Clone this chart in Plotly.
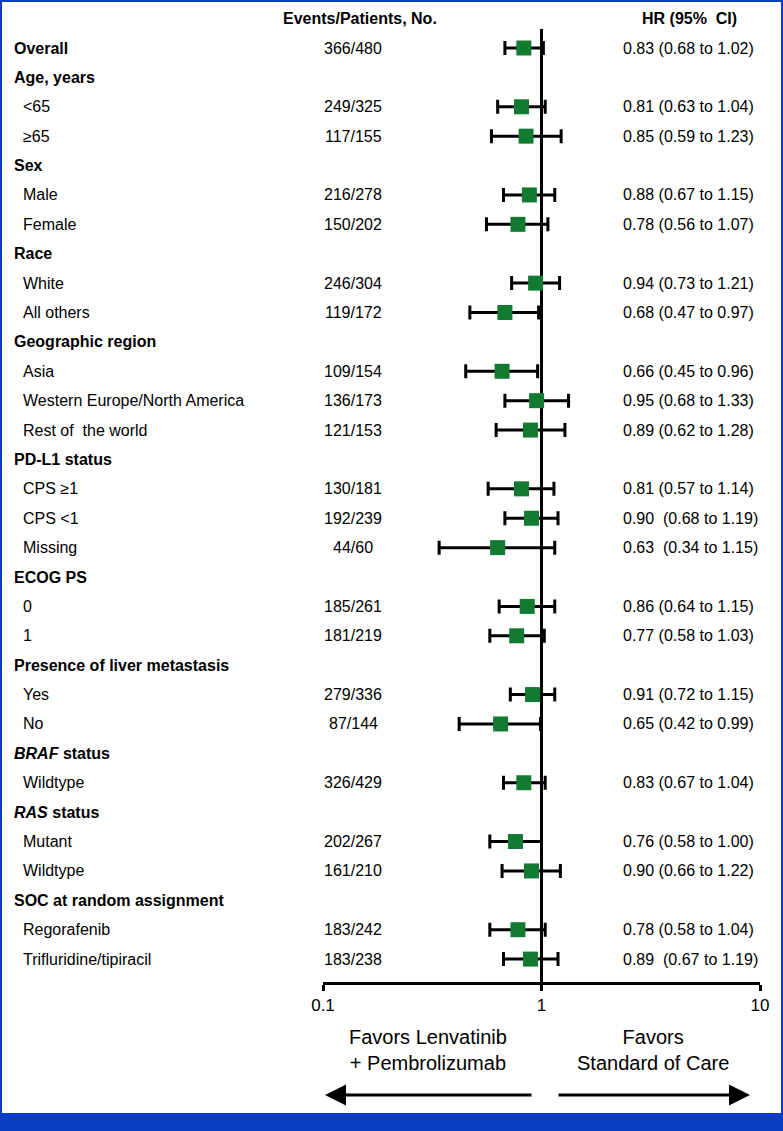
import plotly.graph_objects as go

# ---------------- data ----------------
labels = ["<b>Overall</b>", "<b>Age, years</b>", "<65", "≥65", "<b>Sex</b>", "Male", "Female",
          "<b>Race</b>", "White", "All others", "<b>Geographic region</b>", "Asia",
          "Western Europe/North America", "Rest of  the world", "<b>PD-L1 status</b>",
          "CPS ≥1", "CPS <1", "Missing", "<b>ECOG PS</b>", "0", "1",
          "<b>Presence of liver metastasis</b>", "Yes", "No", "<b><i>BRAF</i> status</b>",
          "Wildtype", "<b><i>RAS</i> status</b>", "Mutant", "Wildtype",
          "<b>SOC at random assignment</b>", "Regorafenib", "Trifluridine/tipiracil"]
is_header = [True, True, False, False, True, False, False, True, False, False, True, False,
             False, False, True, False, False, False, True, False, False, True, False, False,
             True, False, True, False, False, True, False, False]
events = ["366/480", "", "249/325", "117/155", "", "216/278", "150/202", "", "246/304",
          "119/172", "", "109/154", "136/173", "121/153", "", "130/181", "192/239", "44/60",
          "", "185/261", "181/219", "", "279/336", "87/144", "", "326/429", "", "202/267",
          "161/210", "", "183/242", "183/238"]
hr = [0.83, None, 0.81, 0.85, None, 0.88, 0.78, None, 0.94, 0.68, None, 0.66, 0.95, 0.89,
      None, 0.81, 0.90, 0.63, None, 0.86, 0.77, None, 0.91, 0.65, None, 0.83, None, 0.76,
      0.90, None, 0.78, 0.89]
lo = [0.68, None, 0.63, 0.59, None, 0.67, 0.56, None, 0.73, 0.47, None, 0.45, 0.68, 0.62,
      None, 0.57, 0.68, 0.34, None, 0.64, 0.58, None, 0.72, 0.42, None, 0.67, None, 0.58,
      0.66, None, 0.58, 0.67]
hi = [1.02, None, 1.04, 1.23, None, 1.15, 1.07, None, 1.21, 0.97, None, 0.96, 1.33, 1.28,
      None, 1.14, 1.19, 1.15, None, 1.15, 1.03, None, 1.15, 0.99, None, 1.04, None, 1.00,
      1.22, None, 1.04, 1.19]
hr_text = ["0.83 (0.68 to 1.02)", "", "0.81 (0.63 to 1.04)", "0.85 (0.59 to 1.23)", "",
           "0.88 (0.67 to 1.15)", "0.78 (0.56 to 1.07)", "", "0.94 (0.73 to 1.21)",
           "0.68 (0.47 to 0.97)", "", "0.66 (0.45 to 0.96)", "0.95 (0.68 to 1.33)",
           "0.89 (0.62 to 1.28)", "", "0.81 (0.57 to 1.14)", "0.90  (0.68 to 1.19)",
           "0.63  (0.34 to 1.15)", "", "0.86 (0.64 to 1.15)", "0.77 (0.58 to 1.03)", "",
           "0.91 (0.72 to 1.15)", "0.65 (0.42 to 0.99)", "", "0.83 (0.67 to 1.04)", "",
           "0.76 (0.58 to 1.00)", "0.90 (0.66 to 1.22)", "", "0.78 (0.58 to 1.04)",
           "0.89  (0.67 to 1.19)"]
tick_vals = [0.1, 1, 10]
tick_text = ["0.1", "1", "10"]
col_headers = ["<b>Events/Patients, No.</b>", "<b>HR (95%  CI)</b>"]
favor_left = "Favors Lenvatinib<br>+ Pembrolizumab"
favor_right = "Favors<br>Standard of Care"

# ---------------- geometry ----------------
W, H = 783, 1131
FONT = "Liberation Sans, Arial, Helvetica, sans-serif"
GREEN = "#137a31"
BLUE = "#0b3cc6"
row0_px, step_px = 48, 29.39
axis_px = 982


def px2row(p):
    return (p - row0_px) / step_px


def pxx(p):
    return p / W


def pxy(p):
    return 1 - p / H


def nb(s):
    return s.replace("  ", "\u00a0 ")


rows = list(range(len(labels)))
d_rows = [r for r in rows if hr[r] is not None]

fig = go.Figure()

# reference line at HR = 1
fig.add_trace(go.Scatter(x=[1, 1], y=[px2row(29), px2row(axis_px)], mode="lines",
                         line=dict(color="black", width=3), hoverinfo="skip",
                         showlegend=False))

fig.add_trace(go.Scatter(
    x=[hr[r] for r in d_rows], y=d_rows, mode="markers",
    marker=dict(symbol="square", size=15, color=GREEN, line=dict(width=0)),
    error_x=dict(type="data", symmetric=False,
                 array=[hi[r] - hr[r] for r in d_rows],
                 arrayminus=[hr[r] - lo[r] for r in d_rows],
                 color="black", thickness=3, width=7),
    showlegend=False))

ann = []
for r in rows:
    ann.append(dict(x=pxx(12 if is_header[r] else 21), y=r, xref="paper", yref="y",
                    text=nb(labels[r]), showarrow=False, xanchor="left", yanchor="middle",
                    font=dict(size=16, color="black", family=FONT)))
    if events[r]:
        ann.append(dict(x=pxx(353), y=r, xref="paper", yref="y", text=events[r],
                        showarrow=False, xanchor="center", yanchor="middle",
                        font=dict(size=16, color="black", family=FONT)))
    if hr_text[r]:
        ann.append(dict(x=pxx(621), y=r, xref="paper", yref="y", text=nb(hr_text[r]),
                        showarrow=False, xanchor="left", yanchor="middle",
                        font=dict(size=16, color="black", family=FONT)))

ann.append(dict(x=pxx(360), y=px2row(18), xref="paper", yref="y", text=col_headers[0],
                showarrow=False, xanchor="center", yanchor="middle",
                font=dict(size=16, color="black", family=FONT)))
ann.append(dict(x=pxx(689), y=px2row(18), xref="paper", yref="y", text=nb(col_headers[1]),
                showarrow=False, xanchor="center", yanchor="middle",
                font=dict(size=16, color="black", family=FONT)))

ann.append(dict(x=pxx(428), y=pxy(1050), xref="paper", yref="paper", text=favor_left,
                showarrow=False, xanchor="center", yanchor="middle",
                font=dict(size=20, color="black", family=FONT)))
ann.append(dict(x=pxx(653), y=pxy(1050), xref="paper", yref="paper", text=favor_right,
                showarrow=False, xanchor="center", yanchor="middle",
                font=dict(size=20, color="black", family=FONT)))

# arrows
ann.append(dict(x=pxx(325), y=pxy(1095), xref="paper", yref="paper", text="",
                showarrow=True, ax=208, ay=0, arrowhead=2, arrowsize=1.4, arrowwidth=3,
                arrowcolor="black", standoff=0, startstandoff=0))
ann.append(dict(x=pxx(750), y=pxy(1095), xref="paper", yref="paper", text="",
                showarrow=True, ax=-193, ay=0, arrowhead=2, arrowsize=1.4, arrowwidth=3,
                arrowcolor="black", standoff=0, startstandoff=0))

shapes = [
    dict(type="rect", xref="paper", yref="paper", x0=0, x1=pxx(2), y0=0, y1=1,
         fillcolor=BLUE, line=dict(width=0)),
    dict(type="rect", xref="paper", yref="paper", x0=pxx(781), x1=1, y0=0, y1=1,
         fillcolor=BLUE, line=dict(width=0)),
    dict(type="rect", xref="paper", yref="paper", x0=0, x1=1, y0=pxy(2), y1=1,
         fillcolor=BLUE, line=dict(width=0)),
    dict(type="rect", xref="paper", yref="paper", x0=0, x1=1, y0=0, y1=pxy(1113),
         fillcolor=BLUE, line=dict(width=0)),
]

fig.update_layout(
    width=W, height=H, margin=dict(l=0, r=0, t=0, b=0, pad=0, autoexpand=False),
    autosize=False, paper_bgcolor="white", plot_bgcolor="rgba(0,0,0,0)",
    annotations=ann, shapes=shapes, showlegend=False,
    xaxis=dict(type="log", range=[-1, 1], domain=[pxx(323), pxx(760)], automargin=False,
               tickvals=tick_vals, ticktext=tick_text, ticks="outside", ticklen=6,
               tickwidth=3, tickcolor="black", showline=True, linewidth=3,
               linecolor="black", showgrid=False, zeroline=False,
               tickfont=dict(size=17, color="black", family=FONT)),
    yaxis=dict(range=[px2row(axis_px), px2row(0)], domain=[1 - axis_px / H, 1],
               automargin=False, visible=False, showgrid=False, zeroline=False),
)

post = ("document.documentElement.style.margin='0';document.documentElement.style.padding='0';"
        "document.documentElement.style.overflow='hidden';"
        "document.body.style.margin='0';document.body.style.padding='0';"
        "document.body.style.overflow='hidden';")

fig.write_html("out.html", config={"responsive": False, "displayModeBar": False},
               post_script=post)
